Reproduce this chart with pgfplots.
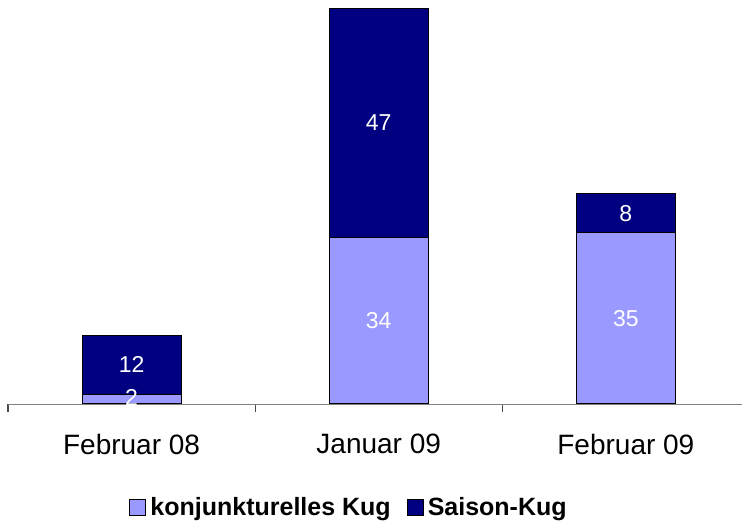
\documentclass[border=0pt]{standalone}
\usepackage{pgfplots}
\pgfplotsset{compat=1.18}
\usepackage{fontspec}
\setmainfont{Liberation Sans}
\definecolor{lightbar}{HTML}{9999FF}
\definecolor{darkbar}{HTML}{000080}
\begin{document}
\begin{tikzpicture}
\useasboundingbox (-4pt,-59pt) rectangle (367pt,202pt);
\begin{axis}[
  at={(0,0)}, anchor=south west,
  scale only axis,
  width=367pt, height=198pt,
  xmin=-0.5, xmax=2.47,
  ymin=0, ymax=81,
  clip=false,
  axis y line=none,
  axis x line*=bottom,
  x axis line style={draw=gray},
  xtick={0,1,2},
  xticklabels={Februar 08, Januar 09, Februar 09},
  major tick length=0pt,
  minor xtick={-0.5,0.5,1.5,2.5},
  minor tick length=4pt,
  tick align=outside,
  minor tick style={draw=black!70, line width=0.6pt},
  xticklabel style={font=\fontsize{14}{16}\selectfont, yshift=-11.5pt},
  ybar, bar width=49.5pt, bar shift=0pt,
  legend style={draw=none, at={(0.466,0)}, anchor=center, yshift=-52pt,
    legend columns=-1, font=\bfseries\fontsize{12.5}{15}\selectfont,
    /tikz/every even column/.append style={column sep=6pt},
    inner sep=0pt},
  legend image code/.code={\draw[#1,draw=black,line width=0.5pt] (0pt,-4pt) rectangle (8pt,4pt);},
]
\addplot[fill=darkbar, draw=black, line width=0.5pt, forget plot] coordinates {(0,14) (1,81) (2,43)};
\addplot[fill=lightbar, draw=black, line width=0.5pt, forget plot] coordinates {(0,2) (1,34) (2,35)};
\addlegendimage{fill=lightbar}
\addlegendentry{konjunkturelles Kug}
\addlegendimage{fill=darkbar}
\addlegendentry{Saison-Kug}
\addplot[only marks, mark=none, point meta=explicit symbolic,
  nodes near coords={\pgfplotspointmeta},
  every node near coord/.style={anchor=center, text=white, font=\fontsize{11.5}{13}\selectfont}]
  table[meta=l] {
x y l
0 1.4 2
0 8 12
1 17 34
1 57.5 47
2 17.5 35
2 39 8
};
\end{axis}
\end{tikzpicture}
\end{document}
